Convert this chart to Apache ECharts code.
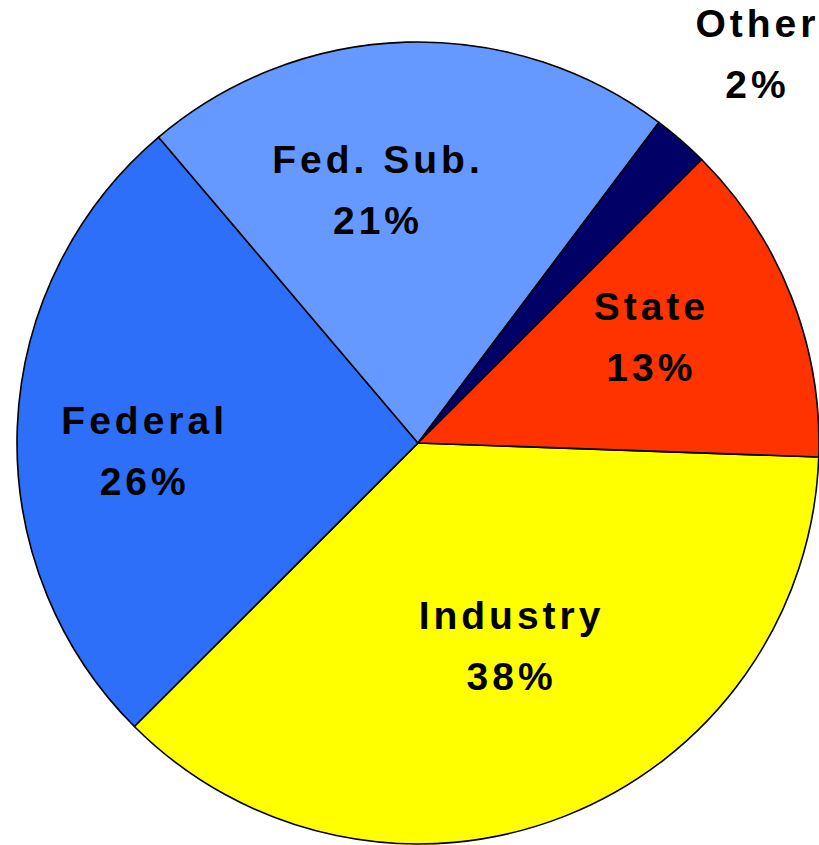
<!DOCTYPE html>
<html><head><meta charset="utf-8">
<script src="https://cdn.jsdelivr.net/npm/echarts@6/dist/echarts.min.js"></script>
<style>
html,body{margin:0;padding:0;background:#fff;}
#main{width:819px;height:845px;}
#main text{letter-spacing:4px;}
</style></head><body><div id="main"></div>
<script>
const categories = ['Industry', 'Federal', 'Fed. Sub.', 'Other', 'State'];
const shares = [36.95, 26.3, 21.45, 2.25, 13.05];
const percentLabels = ['38%', '26%', '21%', '2%', '13%'];

const colors = ['#FFFF00', '#2D6FF8', '#6699FF', '#000066', '#FF3300'];
// label nudges from the default 'inside' position (pixels)
const labelShift = [[19, 14], [-70, 16], [-34, -50], [206, -235], [44, -31]];

const chart = echarts.init(document.getElementById('main'), null, {renderer: 'svg'});
chart.setOption({
  animation: false,
  series: [{
    type: 'pie',
    center: [418, 443],
    radius: 401,
    startAngle: -2,
    clockwise: true,
    avoidLabelOverlap: false,
    data: categories.map((c, i) => ({name: c, value: shares[i], itemStyle: {color: colors[i]}})),
    itemStyle: {borderColor: '#000', borderWidth: 1.6},
    label: {
      show: true, position: 'inside',
      formatter: p => p.name + '\n' + percentLabels[p.dataIndex],
      color: '#000', fontFamily: '"Liberation Sans", Arial, sans-serif',
      fontWeight: 'bold', fontSize: 39, lineHeight: 61, align: 'center'
    },
    labelLine: {show: false},
    labelLayout: p => ({dx: labelShift[p.dataIndex][0], dy: labelShift[p.dataIndex][1]}),
    emphasis: {disabled: true}
  }]
});
</script></body></html>
